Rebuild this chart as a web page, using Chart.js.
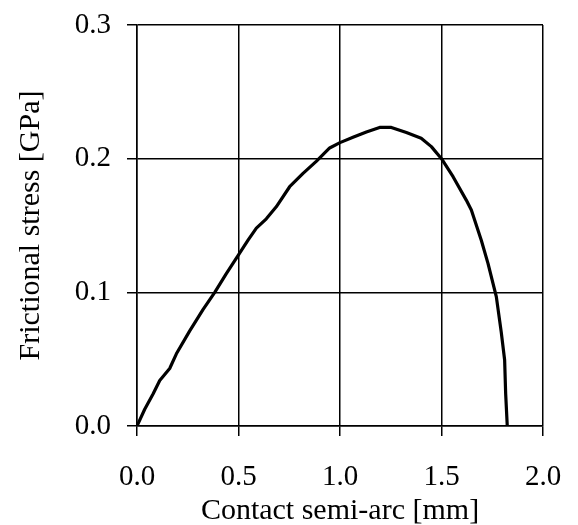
<!DOCTYPE html>
<html>
<head>
<meta charset="utf-8">
<script src="https://cdn.jsdelivr.net/npm/chart.js@4/dist/chart.umd.min.js"></script>
<style>
  html, body { margin: 0; padding: 0; background: #fff; }
  #box { width: 578px; height: 525px; }
</style>
</head>
<body>
<div id="box"><canvas id="stress"></canvas></div>
<script>
  // contact semi-arc [mm] and frictional stress [GPa]
  var semiArc = [0, 0.038, 0.079, 0.112, 0.161, 0.194, 0.259, 0.325, 0.383, 0.44, 0.5, 0.547,
    0.588, 0.637, 0.686, 0.752, 0.818, 0.883, 0.949, 1.0, 1.064, 1.13, 1.195, 1.253, 1.327,
    1.4, 1.45, 1.5, 1.557, 1.622, 1.647, 1.696, 1.729, 1.77, 1.794, 1.811, 1.816, 1.824];
  var stress = [0, 0.0125, 0.024, 0.034, 0.043, 0.054, 0.071, 0.087, 0.100, 0.114, 0.128, 0.139,
    0.148, 0.155, 0.164, 0.179, 0.189, 0.198, 0.208, 0.212, 0.216, 0.220, 0.2234, 0.2234, 0.2195,
    0.2153, 0.209, 0.200, 0.1865, 0.169, 0.1616, 0.139, 0.1217, 0.0968, 0.0706, 0.0494, 0.0244, 0];
  var xTitle = 'Contact semi-arc [mm]';
  var yTitle = 'Frictional stress [GPa]';

  var points = [];
  semiArc.forEach(function (x, i) {
    points.push({ x: x, y: stress[i] });
  });

  var serif = "'Liberation Serif', 'Times New Roman', serif";
  var gridOpts = { color: '#000', lineWidth: 1.5, tickLength: 10, tickColor: '#000', tickWidth: 1.5 };

  // fixed axis sizes, no extra room for the end labels
  function fixSize(s, w, h) {
    if (w) s.width = w;
    if (h) s.height = h;
    s.paddingTop = 0; s.paddingBottom = 0;
    s.paddingLeft = 0; s.paddingRight = 0;
  }

  var ctx = document.getElementById('stress');
  var chart = new Chart(ctx, {
    type: 'line',
    data: {
      datasets: [{
        data: points,
        borderColor: '#000',
        borderWidth: 3.2,
        borderJoinStyle: 'round',
        borderCapStyle: 'round',
        pointRadius: 0,
        tension: 0,
        fill: false
      }]
    },
    options: {
      responsive: true,
      maintainAspectRatio: false,
      animation: false,
      layout: { padding: { top: 25, right: 35, bottom: 0, left: 0 } },
      plugins: { legend: { display: false }, tooltip: { enabled: false } },
      scales: {
        x: {
          type: 'linear',
          min: 0, max: 2,
          grid: gridOpts,
          border: { color: '#000', width: 1.5 },
          ticks: {
            stepSize: 0.5, color: '#000', padding: 24, maxRotation: 0,
            font: { family: serif, size: 29 },
            callback: function (v) { return v.toFixed(1); }
          },
          title: {
            display: true, text: xTitle, color: '#000',
            font: { family: serif, size: 30, lineHeight: 0.95 },
            padding: { top: 0, bottom: 0 }
          },
          afterFit: function (s) { fixSize(s, 0, 99); }
        },
        y: {
          min: 0, max: 0.3,
          grid: gridOpts,
          border: { color: '#000', width: 1.5 },
          ticks: {
            stepSize: 0.1, color: '#000', padding: 16,
            font: { family: serif, size: 29 },
            callback: function (v) { return v.toFixed(1); }
          },
          title: {
            display: true, text: yTitle, color: '#000',
            font: { family: serif, size: 30, lineHeight: 1.2 },
            padding: { top: 13, bottom: 0 }
          },
          afterFit: function (s) { fixSize(s, 137, 0); }
        }
      }
    }
  });
</script>
</body>
</html>
